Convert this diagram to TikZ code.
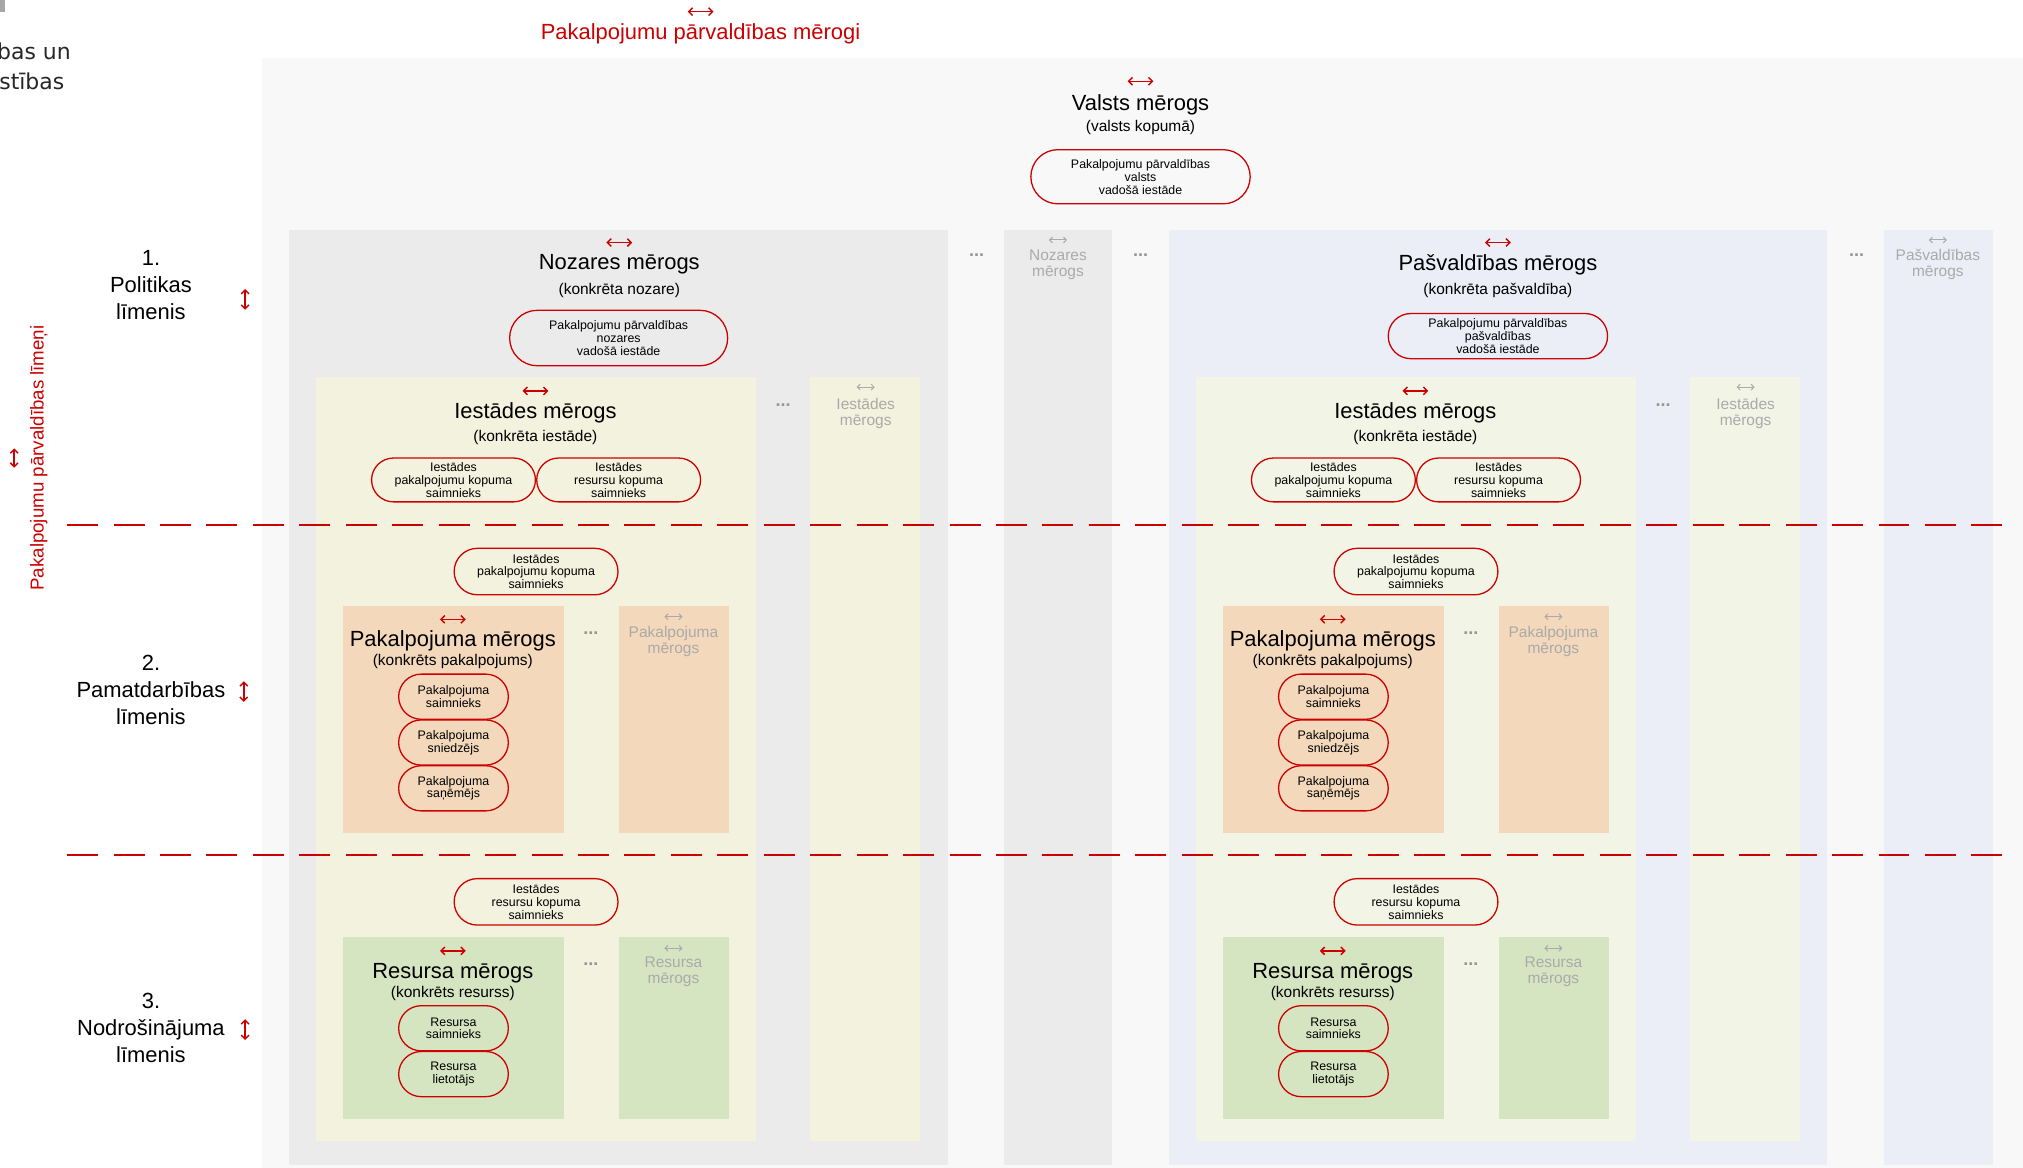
\documentclass[tikz,border=0pt]{standalone}
\usepackage{fontspec}
\setmainfont{Liberation Sans}
\newfontfamily\dejavu{DejaVu Sans}
\usetikzlibrary{shapes.misc,arrows.meta}
\definecolor{rd}{RGB}{204,0,0}
\definecolor{panelc}{RGB}{248,248,248}
\definecolor{nozc}{RGB}{235,235,235}
\definecolor{pasc}{RGB}{235,238,246}
\definecolor{iestc}{RGB}{243,242,222}
\definecolor{iestpc}{RGB}{242,245,229}
\definecolor{pakc}{RGB}{243,216,187}
\definecolor{resc}{RGB}{214,229,193}
\definecolor{gtxt}{RGB}{170,170,170}
\definecolor{gdot}{RGB}{150,150,150}
% red horizontal double arrow centred on a named coordinate
\newcommand\rharrow[3]{\coordinate (#1) at (#2,#3);
  \draw[harrs] ([xshift=-10pt]#1) -- ([xshift=10pt]#1);}
% grey horizontal double arrow
\newcommand\gharrow[3]{\coordinate (#1) at (#2,#3);
  \draw[garrs] ([xshift=-7pt]#1) -- ([xshift=7pt]#1);}
% red vertical double arrow
\newcommand\rvarrow[4]{\coordinate (#1) at (#2,#3);
  \draw[harrs] ([yshift=-#4]#1) -- ([yshift=#4]#1);}
\begin{document}
\begin{tikzpicture}[x=1pt,y=-1pt,
  box/.style={draw=none, anchor=north west, inner sep=0, outer sep=0},
  ttl/.style={font=\fontsize{17}{20}\selectfont, inner sep=0},
  sub/.style={font=\fontsize{12}{14}\selectfont, inner sep=0},
  harrs/.style={draw=rd, line width=1.1pt, {Straight Barb[length=3pt,width=6pt]}-{Straight Barb[length=3pt,width=6pt]}},
  garrs/.style={draw=gtxt, line width=0.8pt, {Straight Barb[length=2.2pt,width=4.5pt]}-{Straight Barb[length=2.2pt,width=4.5pt]}},
  ghost/.style={text=gtxt, font=\fontsize{12}{12.5}\selectfont, align=center, inner sep=0},
  dots/.style={text=gdot, font=\bfseries\fontsize{14}{14}\selectfont, inner sep=0},
  lvl/.style={font=\fontsize{17}{21}\selectfont, align=center, inner sep=0},
  pill/.style={rounded rectangle, draw=rd, line width=1pt, align=center, inner sep=0,
    font=\fontsize{9.6}{10}\selectfont},
  dline/.style={draw=rd, line width=1.5pt, dash pattern=on 24pt off 12pt}
]
\useasboundingbox (0,0) rectangle (1568,905);

% top-left cropped remnants
\node[box, fill=gray!70, minimum width=4pt, minimum height=9pt] (icon) at (0,0) {};
\node[anchor=east, inner sep=0, font=\dejavu\fontsize{17}{17}\selectfont, text=black!85] (tl1) at (55,40) {bas un};
\node[anchor=east, inner sep=0, font=\dejavu\fontsize{17}{17}\selectfont, text=black!85] (tl2) at (50,63) {stības};

% top title
\rharrow{toparr}{543}{9}
\node[ttl, text=rd] (toptitle) at (543,26) {Pakalpojumu pārvaldības mērogi};

% outer panel
\node[box, fill=panelc, minimum width=1365pt, minimum height=860pt] (panel) at (203,45) {};

% Valsts
\rharrow{valarr}{884}{63}
\node[ttl] (valttl) at (884,81) {Valsts mērogs};
\node[sub] (valsub) at (884,99) {(valsts kopumā)};
\node[pill, minimum width=170pt, minimum height=42pt] (valpill) at (884,137) {Pakalpojumu pārvaldības\\valsts\\vadošā iestāde};

% Nozares column and ghost
\node[box, fill=nozc, minimum width=511pt, minimum height=725pt] (noz) at (224,178) {};
\node[box, fill=nozc, minimum width=84pt, minimum height=725pt] (nozg) at (778,178) {};
\rharrow{nozarr}{480}{188}
\node[ttl] (nozttl) at (480,205) {Nozares mērogs};
\node[sub] (nozsub) at (480,225) {(konkrēta nozare)};
\node[pill, minimum width=169pt, minimum height=43pt] (nozpill) at (479.5,262) {Pakalpojumu pārvaldības\\nozares\\vadošā iestāde};
\node[dots] (nozdots1) at (757,198) {...};
\gharrow{nozgarr}{820}{186}
\node[ghost] (nozgtxt) at (820,205) {Nozares\\mērogs};
\node[dots] (nozdots2) at (884,198) {...};

% Pasvaldibas column and ghost
\node[box, fill=pasc, minimum width=510pt, minimum height=725pt] (pas) at (906,178) {};
\node[box, fill=pasc, minimum width=85pt, minimum height=725pt] (pasg) at (1460,178) {};
\rharrow{pasarr}{1161}{188}
\node[ttl] (pasttl) at (1161,205) {Pašvaldības mērogs};
\node[sub] (passub) at (1161,225) {(konkrēta pašvaldība)};
\node[pill, minimum width=170pt, minimum height=35pt] (paspill) at (1161,260.5) {Pakalpojumu pārvaldības\\pašvaldības\\vadošā iestāde};
\node[dots] (pasdots) at (1439,198) {...};
\gharrow{pasgarr}{1502}{186}
\node[ghost] (pasgtxt) at (1502,205) {Pašvaldības\\mērogs};

% Iestades groups
\foreach \dx/\s/\ic in {0/L/iestc, 682/R/iestpc}{
  \node[box, fill=\ic, minimum width=341pt, minimum height=592pt] (iest\s) at (245+\dx,292) {};
  \node[box, fill=\ic, minimum width=85pt, minimum height=592pt] (iestg\s) at (628+\dx,292) {};
  \node[box, fill=pakc, minimum width=171pt, minimum height=176pt] (pak\s) at (266+\dx,470) {};
  \node[box, fill=pakc, minimum width=85pt, minimum height=176pt] (pakg\s) at (480+\dx,470) {};
  \node[box, fill=resc, minimum width=171pt, minimum height=141pt] (res\s) at (266+\dx,726) {};
  \node[box, fill=resc, minimum width=85pt, minimum height=141pt] (resg\s) at (480+\dx,726) {};

  \rharrow{iestarr\s}{415+\dx}{303}
  \node[ttl] (iestttl\s) at (415+\dx,320) {Iestādes mērogs};
  \node[sub] (iestsub\s) at (415+\dx,339) {(konkrēta iestāde)};
  \node[pill, minimum width=127pt, minimum height=34pt] (iestp1\s) at (351.5+\dx,372) {Iestādes\\pakalpojumu kopuma\\saimnieks};
  \node[pill, minimum width=127pt, minimum height=34pt] (iestp2\s) at (479.5+\dx,372) {Iestādes\\resursu kopuma\\saimnieks};
  \node[dots] (iestdots\s) at (607+\dx,314) {...};
  \gharrow{iestgarr\s}{671+\dx}{300}
  \node[ghost] (iestgtxt\s) at (671+\dx,320.5) {Iestādes\\mērogs};

  \node[pill, minimum width=127pt, minimum height=36pt] (pakown\s) at (415.5+\dx,443) {Iestādes\\pakalpojumu kopuma\\saimnieks};
  \rharrow{pakarr\s}{351+\dx}{480}
  \node[ttl] (pakttl\s) at (351+\dx,497) {Pakalpojuma mērogs};
  \node[sub] (paksub\s) at (351+\dx,513) {(konkrēts pakalpojums)};
  \node[pill, minimum width=85pt, minimum height=35pt] (pakp1\s) at (351.5+\dx,540) {Pakalpojuma\\saimnieks};
  \node[pill, minimum width=85pt, minimum height=35pt] (pakp2\s) at (351.5+\dx,575.5) {Pakalpojuma\\sniedzējs};
  \node[pill, minimum width=85pt, minimum height=35pt] (pakp3\s) at (351.5+\dx,611) {Pakalpojuma\\saņēmējs};
  \node[dots] (pakdots\s) at (458+\dx,491) {...};
  \gharrow{pakgarr\s}{522+\dx}{478}
  \node[ghost] (pakgtxt\s) at (522+\dx,497) {Pakalpojuma\\mērogs};

  \node[pill, minimum width=127pt, minimum height=36pt] (resown\s) at (415.5+\dx,699) {Iestādes\\resursu kopuma\\saimnieks};
  \rharrow{resarr\s}{351+\dx}{737}
  \node[ttl] (resttl\s) at (351+\dx,754) {Resursa mērogs};
  \node[sub] (ressub\s) at (351+\dx,770) {(konkrēts resurss)};
  \node[pill, minimum width=85pt, minimum height=35pt] (resp1\s) at (351.5+\dx,797) {Resursa\\saimnieks};
  \node[pill, minimum width=85pt, minimum height=35pt] (resp2\s) at (351.5+\dx,832.5) {Resursa\\lietotājs};
  \node[dots] (resdots\s) at (458+\dx,747) {...};
  \gharrow{resgarr\s}{522+\dx}{735}
  \node[ghost] (resgtxt\s) at (522+\dx,753.5) {Resursa\\mērogs};
}

% level labels
\node[lvl] (lvl1) at (117,221) {1.\\Politikas\\līmenis};
\rvarrow{lvl1arr}{190}{232}{8pt}
\node[lvl] (lvl2) at (117,535) {2.\\Pamatdarbības\\līmenis};
\rvarrow{lvl2arr}{189}{536}{8pt}
\node[lvl] (lvl3) at (117,797) {3.\\Nodrošinājuma\\līmenis};
\rvarrow{lvl3arr}{190}{798}{8pt}

\node[rotate=90, text=rd, font=\fontsize{14.5}{15}\selectfont, inner sep=0] (lvltitle) at (30,355) {Pakalpojumu pārvaldības līmeņi};
\rvarrow{lvltarr}{11}{355}{7.5pt}

% dashed separators
\coordinate (d1a) at (52,407);
\coordinate (d1b) at (1557,407);
\coordinate (d2a) at (52,663);
\coordinate (d2b) at (1557,663);
\draw[dline] (d1a) -- (d1b);
\draw[dline] (d2a) -- (d2b);
\end{tikzpicture}
\end{document}
